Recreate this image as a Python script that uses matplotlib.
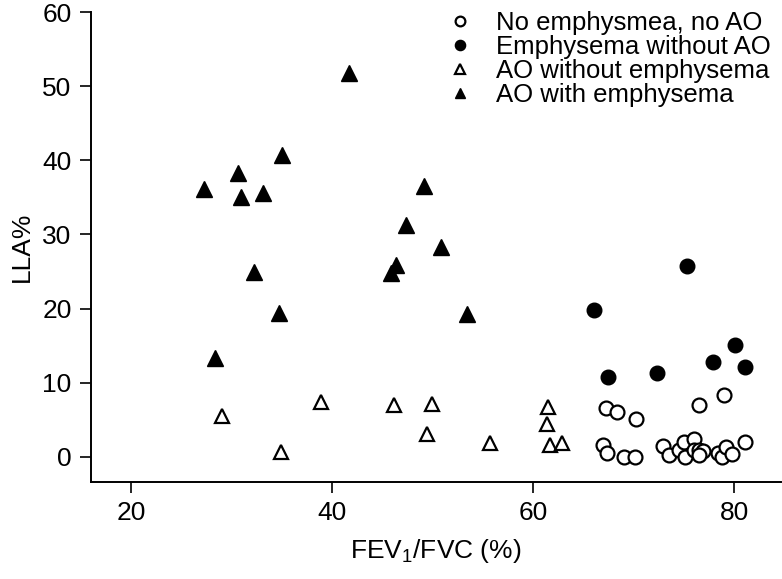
import matplotlib
matplotlib.use('Agg')
import matplotlib.pyplot as plt

plt.rcParams['font.family'] = ['Liberation Sans', 'DejaVu Sans']
plt.rcParams['mathtext.fontset'] = 'custom'
plt.rcParams['mathtext.rm'] = 'Liberation Sans'

# No emphysema, no AO (open circles)
none_x = [67.2, 68.3, 70.2, 76.5, 79.0, 66.9, 67.3, 69.0, 70.1, 72.9, 73.5, 74.5,
          75.0, 75.1, 76.0, 76.0, 76.5, 76.9, 76.5, 78.4, 78.8, 79.2, 79.8, 81.0]
none_y = [6.6, 6.1, 5.1, 7.0, 8.4, 1.6, 0.5, 0.0, 0.0, 1.5, 0.3, 0.9,
          2.0, 0.0, 2.4, 0.9, 0.9, 0.8, 0.3, 0.5, 0.0, 1.3, 0.4, 2.0]

# Emphysema without AO (filled circles)
emph_x = [66.0, 75.3, 80.1, 77.9, 81.0, 72.3, 67.4]
emph_y = [19.8, 25.7, 15.1, 12.8, 12.1, 11.3, 10.8]

# AO without emphysema (open triangles)
ao_x = [29.0, 38.9, 46.1, 49.9, 61.5, 61.4, 49.4, 55.7, 61.7, 62.8, 34.9]
ao_y = [5.5, 7.4, 7.0, 7.1, 6.7, 4.4, 3.1, 1.9, 1.6, 1.9, 0.6]

# AO with emphysema (filled triangles)
both_x = [41.7, 35.0, 30.6, 27.2, 30.9, 33.1, 32.2, 34.7, 28.3,
          49.1, 47.3, 50.8, 46.3, 45.8, 53.4]
both_y = [51.8, 40.7, 38.3, 36.1, 35.0, 35.6, 24.9, 19.4, 13.3,
          36.5, 31.3, 28.3, 25.9, 24.8, 19.3]

fig = plt.figure(figsize=(7.82, 5.79), dpi=100)
ax = fig.add_axes([0.1164, 0.1675, 0.8826, 0.8115])

ax.plot(none_x, none_y, 'o', ms=10, mfc='white', mec='black', mew=1.6,
        linestyle='none', label='No emphysmea, no AO')
ax.plot(emph_x, emph_y, 'o', ms=10.5, mfc='black', mec='black',
        linestyle='none', label='Emphysema without AO')
ax.plot(ao_x, ao_y, '^', ms=10, mfc='white', mec='black', mew=1.6,
        linestyle='none', label='AO without emphysema')
ax.plot(both_x, both_y, '^', ms=11, mfc='black', mec='black',
        linestyle='none', label='AO with emphysema')

ax.set_xlim(16.0, 84.65)
ax.set_ylim(-3.4, 60)
ax.set_xticks([20, 40, 60, 80])
ax.set_yticks([0, 10, 20, 30, 40, 50, 60])
ax.tick_params(direction='out', length=8, width=1.2, labelsize=19, pad=6)
for side in ['top', 'right']:
    ax.spines[side].set_visible(False)
for side in ['left', 'bottom']:
    ax.spines[side].set_linewidth(1.4)

ax.set_xlabel(r'FEV$_\mathregular{1}$/FVC (%)', fontsize=19, labelpad=8)
ax.set_ylabel('LLA%', fontsize=19, labelpad=6)

leg = ax.legend(loc='upper right', frameon=False, fontsize=18.5, markerscale=0.7,
                handlelength=1.0, handletextpad=0.9, labelspacing=0.0,
                borderaxespad=0.0, bbox_to_anchor=(1.0, 1.025))

fig.savefig('out.png', dpi=100)
